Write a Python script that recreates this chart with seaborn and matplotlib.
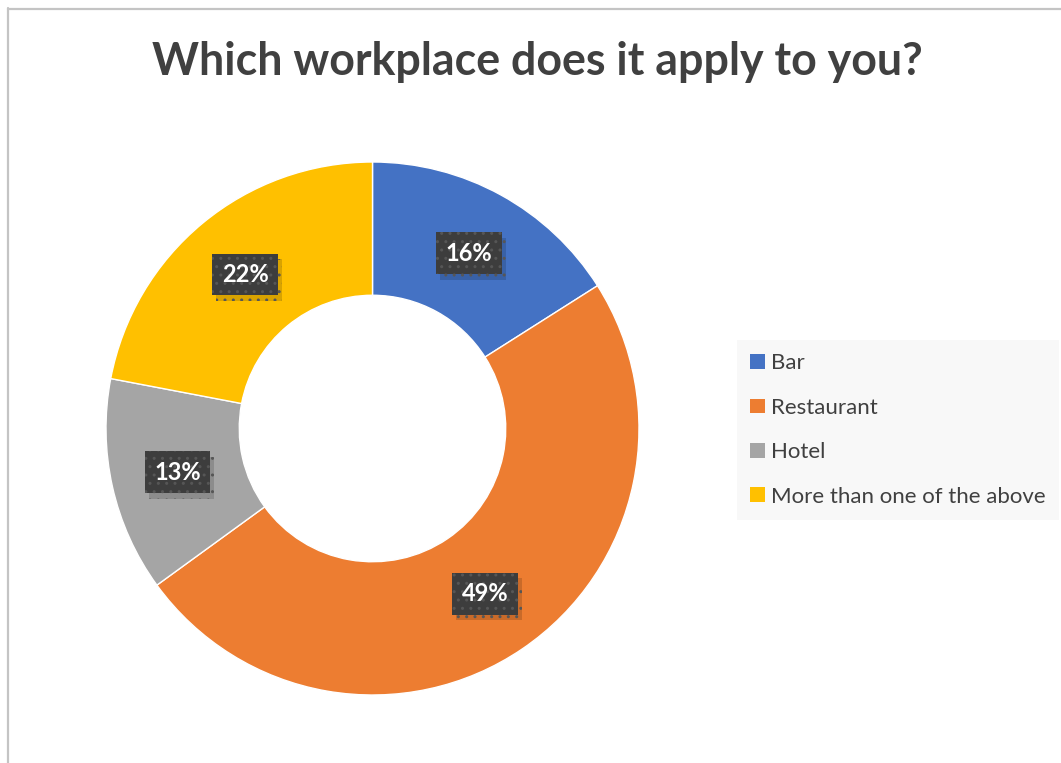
import matplotlib
matplotlib.use("Agg")
import matplotlib.pyplot as plt
import matplotlib.patheffects as pe
from matplotlib.patches import Patch
from matplotlib.lines import Line2D
import seaborn as sns

# Survey answers
categories = ["Bar", "Restaurant", "Hotel", "More than one of the above"]
shares = [16, 49, 13, 22]
colors = ["#4472C4", "#ED7D31", "#A5A5A5", "#FFC000"]
title = "Which workplace does it apply to you?"

sns.set_theme(style="white")
plt.rcParams["font.family"] = ["Lato", "DejaVu Sans"]

W, H = 1061, 763
fig = plt.figure(figsize=(W / 100, H / 100), dpi=100)
fig.patch.set_facecolor("white")

# Frame lines along the top and left edge
fig.add_artist(Line2D([7.5 / W, 7.5 / W], [0, 1 - 8 / H], transform=fig.transFigure,
                      color="#c4c4c4", lw=1.6))
fig.add_artist(Line2D([7.5 / W, 1], [1 - 8.5 / H, 1 - 8.5 / H], transform=fig.transFigure,
                      color="#c4c4c4", lw=1.6))

# Donut axes: centre (372.5, 428.5) px, outer radius 266.5 px
cx, cy, r = 372.5, 428.5, 266.5
ax = fig.add_axes([(cx - r) / W, (H - cy - r) / H, 2 * r / W, 2 * r / H])
ax.set_aspect("equal")

wedges, _, autotexts = ax.pie(
    shares,
    colors=colors,
    startangle=90,
    counterclock=False,
    radius=1.0,
    wedgeprops=dict(width=0.5, edgecolor="white", linewidth=1.0),
    autopct="%.0f%%",
    pctdistance=0.75,
    textprops=dict(color="white", fontsize=17, fontweight="bold"),
)
ax.set_xlim(-1, 1)
ax.set_ylim(-1, 1)
ax.axis("off")

for t in autotexts:
    t.set_bbox(dict(boxstyle="square,pad=0.4", facecolor="#3d3d3d",
                    edgecolor="#565656", linewidth=0, hatch=".."))
    t.get_bbox_patch().set_path_effects([
        pe.SimplePatchShadow(offset=(3, -4), shadow_rgbFace="black", alpha=0.15),
        pe.Normal(),
    ])

fig.text(537 / W, 1 - 75 / H, title, ha="center", va="baseline",
         fontsize=32.2, fontweight="bold", color="#404040")

handles = [Patch(facecolor=c, edgecolor="none") for c in colors]
leg = fig.legend(
    handles, categories,
    loc="upper left",
    bbox_to_anchor=(737 / W, 1 - 340 / H),
    frameon=True,
    fancybox=False,
    facecolor="#f8f8f8",
    edgecolor="#f8f8f8",
    framealpha=1,
    fontsize=16,
    labelcolor="#404040",
    handlelength=0.65,
    handleheight=0.65,
    handletextpad=0.3,
    labelspacing=1.1,
    borderpad=0.6,
    borderaxespad=0,
)
leg.get_frame().set_linewidth(0)

fig.savefig("out.png", dpi=100, facecolor="white")
